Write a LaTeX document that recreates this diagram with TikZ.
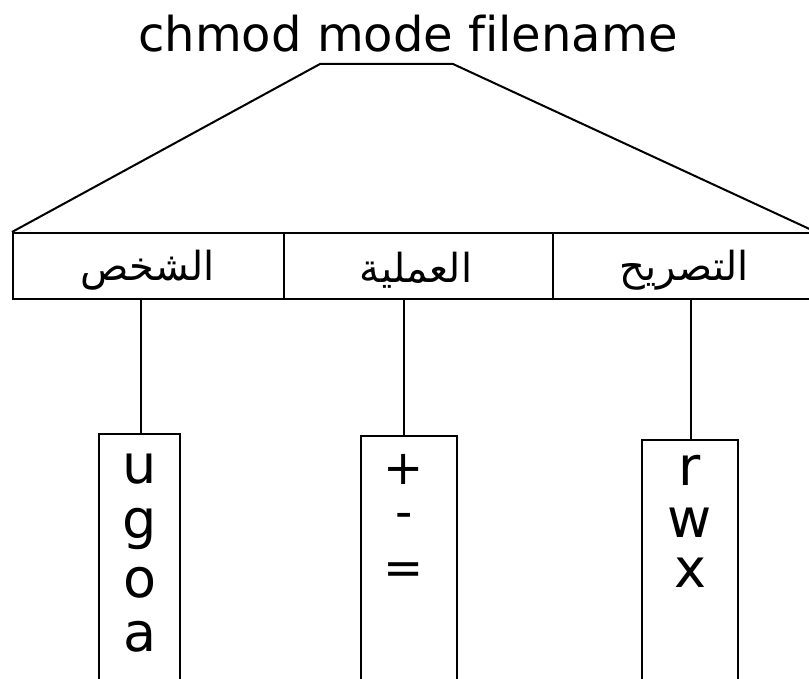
\documentclass[tikz,border=0pt]{standalone}
\usepackage{fontspec}
\setmainfont{DejaVu Sans}[Ligatures=NoCommon]
\newfontfamily\arabicfont[Script=Arabic]{DejaVu Sans}
\TeXXeTstate=1
\begin{document}
\begin{tikzpicture}[x=1pt,y=-1pt,line width=2pt,
  cell/.style={draw,rectangle,minimum height=66pt,inner sep=0pt,anchor=north west},
  valbox/.style={draw,rectangle,inner sep=0pt,anchor=north,minimum height=280pt},
  ar/.style={font=\arabicfont\fontsize{40}{40}\selectfont},
  sym/.style={anchor=base,inner sep=0pt,font=\fontsize{54}{54}\selectfont},
  opsym/.style={anchor=base,inner sep=0pt,font=\fontsize{48}{48}\selectfont}]
\useasboundingbox (0,0) rectangle (809,679);
\clip (0,0) rectangle (809,679);
% title
\node[anchor=base,inner sep=0pt,font=\fontsize{48}{48}\selectfont] (title) at (408,52) {chmod mode filename};
% header cells
\node[cell,minimum width=271pt] (cell1) at (12,232) {};
\node[cell,minimum width=269pt] (cell2) at (283,232) {};
\node[cell,minimum width=262pt] (cell3) at (552,232) {};
\node[ar] (t1) at (147.5,270) {\beginR الشخص\endR};
\node[ar] (t2) at (416,270) {\beginR العملية\endR};
\node[ar] (t3) at (684,270) {\beginR التصريح\endR};
% bracket
\coordinate (bl) at (320,64);
\coordinate (br) at (453,64);
\draw (cell1.north west) -- (bl) -- (br) -- (cell3.north east);
% value boxes
\node[valbox,minimum width=81pt] (box1) at (139.5,433) {};
\node[valbox,minimum width=96pt] (box2) at (409,435) {};
\node[valbox,minimum width=96pt] (box3) at (690,439) {};
% connectors
\coordinate (c1) at (141,298);
\coordinate (c2) at (404,298);
\coordinate (c3) at (691,298);
\draw (c1) -- (c1 |- box1.north);
\draw (c2) -- (c2 |- box2.north);
\draw (c3) -- (c3 |- box3.north);
% values
\node[sym] (u) at (140,483) {u};
\node[sym] (g) at (140,538) {g};
\node[sym] (o) at (140,597) {o};
\node[sym] (a) at (140,651) {a};
\node[opsym] (plus) at (404,484) {+};
\node[opsym] (minus) at (404,528) {-};
\node[opsym] (eq) at (404,584) {=};
\node[sym] (r) at (690,485) {r};
\node[sym] (w) at (690,537) {w};
\node[sym] (x) at (690,587) {x};
\end{tikzpicture}
\end{document}
